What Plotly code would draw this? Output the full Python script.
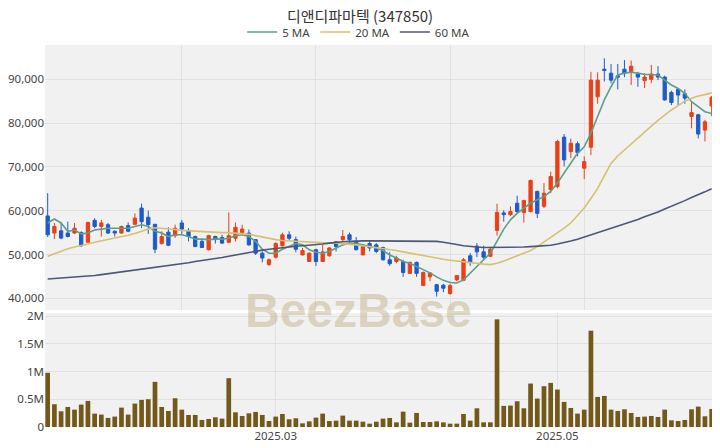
import plotly.graph_objects as go
from plotly.subplots import make_subplots

dates = (
    "2025-01-08 2025-01-09 2025-01-10 2025-01-13 2025-01-14 2025-01-15 2025-01-16 2025-01-17 "
    "2025-01-20 2025-01-21 2025-01-22 2025-01-23 2025-01-24 2025-01-31 "
    "2025-02-03 2025-02-04 2025-02-05 2025-02-06 2025-02-07 2025-02-10 2025-02-11 2025-02-12 2025-02-13 2025-02-14 "
    "2025-02-17 2025-02-18 2025-02-19 2025-02-20 2025-02-21 2025-02-24 2025-02-25 2025-02-26 2025-02-27 2025-02-28 "
    "2025-03-04 2025-03-05 2025-03-06 2025-03-07 2025-03-10 2025-03-11 2025-03-12 2025-03-13 2025-03-14 "
    "2025-03-17 2025-03-18 2025-03-19 2025-03-20 2025-03-21 2025-03-24 2025-03-25 2025-03-26 2025-03-27 2025-03-28 2025-03-31 "
    "2025-04-01 2025-04-02 2025-04-03 2025-04-04 2025-04-07 2025-04-08 2025-04-09 2025-04-10 2025-04-11 "
    "2025-04-14 2025-04-15 2025-04-16 2025-04-17 2025-04-18 2025-04-21 2025-04-22 2025-04-23 2025-04-24 2025-04-25 "
    "2025-04-28 2025-04-29 2025-04-30 2025-05-02 2025-05-07 2025-05-08 2025-05-09 "
    "2025-05-12 2025-05-13 2025-05-14 2025-05-15 2025-05-16 2025-05-19 2025-05-20 2025-05-21 2025-05-22 2025-05-23 "
    "2025-05-26 2025-05-27 2025-05-28 2025-05-29 2025-05-30 2025-06-02 2025-06-04 2025-06-05 2025-06-09 2025-06-10"
).split()

open_ = [58800, 54900, 55400, 54900, 54900, 55000, 52800, 57800, 56400, 56800,
         55300, 54900, 56600, 56900, 60600, 58500, 56900, 52500, 55100, 54300,
         57200, 55500, 54100, 53000, 51100, 54100, 53900, 52800, 53700, 55000,
         54900, 53400, 50300, 47700, 49400, 52000, 54500, 53400, 49900, 48400,
         51100, 48400, 49700, 52900, 53400, 54500, 53000, 49900, 52500, 52200,
         51600, 48800, 48400, 48400, 45700, 48200, 42900, 44900, 43100, 43000,
         41100, 44200, 44100, 49700, 51900, 50600, 49600, 55500, 59500, 59100,
         61700, 59600, 59800, 64400, 61000, 64800, 65500, 76800, 73500, 75300,
         69700, 74500, 86000, 92300, 91400, 90800, 92300, 91700, 91200, 89700,
         90000, 91200, 90500, 87000, 87700, 86700, 81500, 81900, 78400, 83900]
high = [64000, 57200, 57300, 57500, 57200, 55300, 57500, 58300, 57900, 57200,
        55500, 56600, 57300, 59400, 61600, 60000, 56900, 55300, 56200, 56800,
        57900, 56000, 54300, 53400, 54500, 54300, 54500, 59600, 57300, 56800,
        55700, 53500, 50700, 49100, 52800, 55000, 55300, 54100, 51500, 50500,
        51300, 52200, 51700, 52900, 55600, 55000, 54000, 52000, 53000, 52600,
        51800, 50500, 49700, 48800, 48400, 48400, 46100, 46000, 43300, 43300,
        43300, 45200, 49200, 50300, 52600, 52000, 51500, 61600, 60100, 61000,
        63400, 62500, 67100, 64600, 66300, 68900, 76200, 77500, 76500, 75800,
        72400, 91700, 91600, 94800, 93500, 93500, 94400, 94300, 91700, 91400,
        93300, 93000, 90800, 87400, 87900, 87700, 84900, 82100, 80700, 86200]
low = [54000, 53500, 53500, 53900, 54700, 51700, 52600, 56000, 54100, 54700,
       54100, 54700, 55100, 56700, 56000, 54700, 50300, 52300, 51900, 53800,
       54700, 53000, 51700, 51500, 50900, 52500, 52400, 52600, 53000, 54900,
       52000, 49900, 48200, 47400, 49100, 51800, 53300, 50500, 49800, 48300,
       47400, 48300, 49500, 50700, 53000, 53000, 50900, 49900, 50700, 50300,
       48600, 47400, 48000, 44900, 45600, 44900, 42800, 43900, 40400, 41400,
       40800, 43900, 43900, 47400, 49400, 49000, 49400, 54300, 57500, 58800,
       59400, 57300, 59600, 58300, 60600, 64000, 65100, 70100, 72000, 72400,
       67200, 72700, 84400, 89500, 89100, 87700, 90500, 88700, 88300, 88000,
       89100, 89800, 85100, 84100, 84100, 84400, 78800, 76500, 75800, 81600]
close = [54500, 56400, 53750, 54100, 56000, 52000, 57300, 56400, 57200, 54900,
         54900, 56400, 55300, 58300, 57500, 56800, 51200, 54100, 52100, 56000,
         55800, 54100, 51800, 51600, 54300, 53400, 52600, 54300, 56200, 55800,
         52200, 50300, 49200, 48800, 52500, 54500, 53700, 51200, 50900, 50300,
         48400, 50600, 51500, 51800, 54100, 53400, 51100, 51800, 51500, 50700,
         48800, 47900, 49200, 45900, 48200, 45700, 45900, 45800, 41600, 42300,
         42900, 45200, 48800, 48200, 50600, 49400, 51200, 59600, 59100, 59800,
         59800, 62300, 66900, 59400, 64000, 67800, 75800, 71600, 75400, 73300,
         71200, 89800, 89800, 92000, 89800, 90500, 91400, 93000, 90500, 90500,
         91200, 90500, 85300, 84700, 86400, 85700, 82400, 77500, 80300, 85900]
volume = [976000, 410000, 283000, 361000, 313000, 404000, 470000, 241000, 223000, 163000,
          187000, 349000, 223000, 422000, 488000, 500000, 813000, 361000, 289000, 518000,
          313000, 217000, 217000, 127000, 145000, 175000, 151000, 880000, 265000, 199000,
          247000, 271000, 217000, 108000, 187000, 235000, 139000, 157000, 66000, 102000,
          169000, 241000, 108000, 114000, 205000, 114000, 114000, 96000, 60000, 96000,
          151000, 163000, 84000, 277000, 78000, 253000, 90000, 90000, 102000, 84000,
          60000, 60000, 235000, 114000, 337000, 84000, 84000, 1940000, 380000, 386000,
          464000, 337000, 783000, 512000, 735000, 795000, 675000, 452000, 343000, 241000,
          313000, 1735000, 542000, 560000, 313000, 289000, 319000, 253000, 181000, 187000,
          199000, 181000, 313000, 120000, 108000, 127000, 319000, 367000, 193000, 325000]
ma5 = [57200, 58100, 57200, 55300, 55600, 54700, 54900, 55600, 55800, 56000,
       56000, 56000, 56000, 56400, 56800, 56400, 55300, 54900, 54100, 54500,
       54500, 54100, 53500, 53500, 53400, 53500, 53500, 53700, 54300, 54500,
       54100, 53000, 51200, 50300, 50300, 51200, 51800, 52500, 52200, 51100,
       50500, 50300, 50700, 51500, 52200, 52600, 52500, 52200, 51800, 51500,
       50900, 49900, 49200, 48400, 48000, 47300, 46500, 45800, 44900, 44100,
       43600, 43500, 44200, 45800, 47300, 48800, 50300, 53000, 55800, 57900,
       59400, 60600, 61700, 62500, 63200, 64400, 66300, 68600, 70800, 73100,
       74600, 77700, 81500, 85300, 88300, 91000, 91400, 91600, 91400, 91100,
       91100, 91000, 89800, 88700, 87900, 86800, 84900, 83800, 82600, 82200]
ma20 = [49600, 50200, 50800, 51300, 51700, 52000, 52400, 52800, 53100, 53400,
        53700, 54000, 54400, 54800, 55300, 55800, 56100, 56000, 55800, 55700,
        55500, 55400, 55300, 55200, 55100, 55000, 55000, 55000, 54900, 54800,
        54600, 54300, 54000, 53600, 53400, 53200, 53100, 53000, 52900, 52800,
        52800, 52700, 52600, 52600, 52500, 52400, 52200, 52000, 51800, 51600,
        51300, 51100, 50900, 50600, 50300, 50000, 49700, 49400, 49100, 48900,
        48700, 48500, 48300, 48100, 47900, 47800, 47700, 48000, 48500, 49100,
        49700, 50300, 50900, 51800, 52800, 53800, 54900, 56000, 57200, 58800,
        60600, 62800, 65100, 68000, 70800, 72500, 73900, 75300, 76700, 78000,
        79300, 80600, 81900, 83000, 84000, 85000, 85700, 86200, 86500, 86900]
ma60 = [44400, 44500, 44600, 44700, 44800, 44900, 45000, 45200, 45400, 45600,
        45800, 46000, 46200, 46400, 46600, 46800, 47000, 47200, 47500, 47700,
        47900, 48100, 48400, 48600, 48800, 49000, 49300, 49600, 49900, 50200,
        50400, 50700, 51000, 51200, 51400, 51600, 51800, 51900, 52000, 52100,
        52200, 52400, 52600, 52800, 52900, 53000, 53100, 53100, 53100, 53100,
        53100, 53100, 53100, 53100, 53100, 53100, 53100, 53100, 53000, 52800,
        52600, 52300, 52000, 51800, 51700, 51600, 51600, 51600, 51600, 51600,
        51600, 51700, 51800, 51900, 52000, 52100, 52400, 52700, 53100, 53500,
        54000, 54500, 55000, 55500, 55900, 56400, 56900, 57500, 58000, 58600,
        59100, 59700, 60400, 61000, 61600, 62300, 63000, 63600, 64300, 65000]

price_grid_dates = [dates[20], dates[40], dates[60], dates[80]]
vol_tick_dates = ["2025-03-04", "2025-05-02"]
vol_tick_text = ["2025.03", "2025.05"]
price_ticks = [40000, 50000, 60000, 70000, 80000, 90000]
vol_ticks = [0, 500000, 1000000, 1500000, 2000000]
vol_tick_text_y = ["0", "0.5M", "1M", "1.5M", "2M"]

RED = "#ec3f16"
BLUE = "#1f5bc8"
VOLC = "#725819"
BG = "#f1f1f1"
GRID = "#e1e1e1"
LATIN = "Noto Sans, sans-serif"

fig = make_subplots(rows=2, cols=1, shared_xaxes=False, vertical_spacing=0.0)

fig.add_trace(go.Candlestick(
    x=dates, open=open_, high=high, low=low, close=close,
    increasing=dict(line=dict(color=RED, width=1), fillcolor=RED),
    decreasing=dict(line=dict(color=BLUE, width=1), fillcolor=BLUE),
    whiskerwidth=0, showlegend=False, name="price"), row=1, col=1)
fig.add_trace(go.Scatter(x=dates, y=ma5, mode="lines", name="5 MA",
                         line=dict(color="#5c9f8b", width=1.6)), row=1, col=1)
fig.add_trace(go.Scatter(x=dates, y=ma20, mode="lines", name="20 MA",
                         line=dict(color="#d5c170", width=1.6)), row=1, col=1)
fig.add_trace(go.Scatter(x=dates, y=ma60, mode="lines", name="60 MA",
                         line=dict(color="#4c5675", width=1.6)), row=1, col=1)
fig.add_trace(go.Bar(x=dates, y=volume, marker=dict(color=VOLC, line=dict(width=0)),
                     showlegend=False, name="volume"), row=2, col=1)

xr = [-0.4, 99.35]
fig.update_layout(
    width=712, height=440,
    margin=dict(l=37, r=6, t=37, b=21, autoexpand=False),
    paper_bgcolor="white", plot_bgcolor=BG,
    font=dict(family=LATIN, color="#444", size=12),
    title=dict(text="디앤디파마텍 (347850)", x=0.4944, xanchor="center",
               yref="container", y=1 - 3 / 440, yanchor="top", pad=dict(t=0, b=0),
               font=dict(size=15, color="#333", family="Noto Sans CJK KR, Noto Sans, sans-serif")),
    legend=dict(orientation="h", x=0.469, xanchor="center", y=1.034, yanchor="middle",
                font=dict(size=11.5, color="#444", family=LATIN), bgcolor="rgba(0,0,0,0)"),
    bargap=0.3,
    xaxis=dict(type="category", domain=[0, 1], range=xr, rangeslider=dict(visible=False),
               tickvals=price_grid_dates, showticklabels=False, showgrid=True,
               gridcolor=GRID, zeroline=False, ticks=""),
    yaxis=dict(domain=[0.3063, 1], range=[37330, 97830], tickvals=price_ticks,
               tickformat=",d", showgrid=True, gridcolor=GRID, zeroline=False, ticks="",
               tickfont=dict(size=11.5, color="#444", family=LATIN), automargin=False),
    xaxis2=dict(type="category", domain=[0, 1], range=xr, tickvals=vol_tick_dates,
                ticktext=vol_tick_text, showgrid=True, gridcolor=GRID, zeroline=False,
                ticks="", tickfont=dict(size=11.5, color="#444", family=LATIN),
                matches="x", automargin=False),
    yaxis2=dict(domain=[0, 0.2984], range=[0, 2054000], tickvals=vol_ticks,
                ticktext=vol_tick_text_y, showgrid=True, gridcolor=GRID, zeroline=False,
                ticks="", tickfont=dict(size=11.5, color="#444", family=LATIN), automargin=False),
    annotations=[dict(text="<b>BeezBase</b>", x=0.4686, y=0.306, xref="paper", yref="paper",
                      xanchor="center", yanchor="middle", showarrow=False,
                      font=dict(size=48, color="rgba(195,180,140,0.5)",
                                family="Liberation Sans, Arial, sans-serif"))],
)

fig.write_html("out.html")
